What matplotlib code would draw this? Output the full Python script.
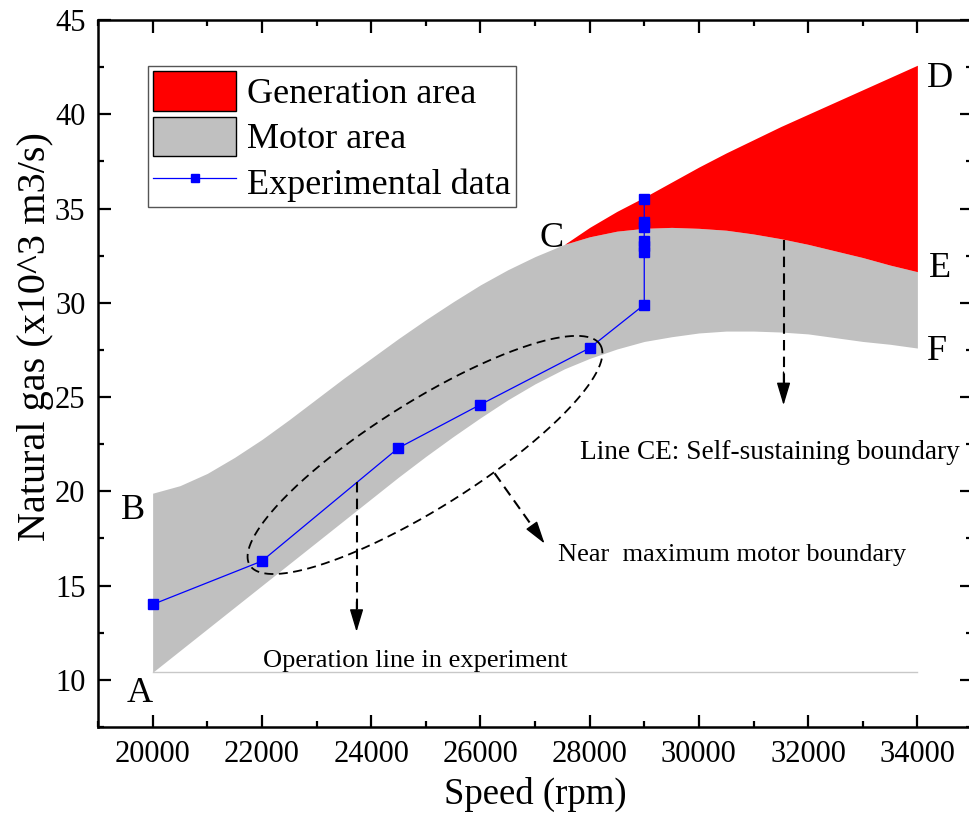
import numpy as np
import matplotlib
matplotlib.use('Agg')
import matplotlib.pyplot as plt
from matplotlib.patches import Patch
from matplotlib.lines import Line2D
from matplotlib.ticker import MultipleLocator

plt.rcParams['font.family'] = ['Liberation Serif', 'DejaVu Serif']

# ---------------- data ----------------
exp_speed = [20000, 22000, 24500, 26000, 28000, 29000, 29000, 29000, 29000, 29000, 29000, 29000]
exp_gas = [14.0, 16.3, 22.3, 24.6, 27.6, 29.9, 32.7, 33.0, 33.3, 34.0, 34.3, 35.5]

motor_speed = [20000, 20500, 21000, 21500, 22000, 22500, 23000, 23500, 24000, 24500,
               25000, 25500, 26000, 26500, 27000, 27540, 28000, 28500, 29000, 29500,
               30000, 30500, 31000, 31500, 32000, 32500, 33000, 33500, 34000]
motor_upper = [19.9, 20.3, 20.95, 21.8, 22.75, 23.8, 24.9, 26.0, 27.05, 28.1,
               29.1, 30.05, 30.95, 31.75, 32.45, 33.1, 33.5, 33.8, 33.95, 34.0,
               33.95, 33.85, 33.65, 33.4, 33.1, 32.75, 32.4, 32.0, 31.65]
motor_lower = [10.4, 11.55, 12.7, 13.85, 15.0, 16.15, 17.3, 18.45, 19.6, 20.75,
               21.85, 22.9, 23.9, 24.85, 25.7, 26.5, 27.05, 27.55, 27.95, 28.2,
               28.4, 28.5, 28.5, 28.45, 28.35, 28.15, 27.95, 27.8, 27.6]

gen_speed = [27540, 28000, 28500, 29000, 29500, 30000, 30500, 31000, 31500,
             32000, 32500, 33000, 33500, 34000]
gen_lower = [33.1, 33.5, 33.8, 33.95, 34.0, 33.95, 33.85, 33.65, 33.4,
             33.1, 32.75, 32.4, 32.0, 31.65]
gen_upper = [33.1, 34.0, 34.85, 35.6, 36.4, 37.2, 37.95, 38.65, 39.35,
             40.0, 40.65, 41.3, 41.95, 42.6]

base_speed = [20000, 34000]
base_gas = [10.43, 10.43]

x_ticks = [20000, 22000, 24000, 26000, 28000, 30000, 32000, 34000]
y_ticks = [10, 15, 20, 25, 30, 35, 40, 45]

# ---------------- figure ----------------
W, H = 969, 814
fig = plt.figure(figsize=(W / 100, H / 100), dpi=100)
L, R, T, B = 98, 972, 20, 727
ax = fig.add_axes([L / W, 1 - B / H, (R - L) / W, (B - T) / H])
ax.set_xlim(19000, 35000)
ax.set_ylim(7.5, 45)

ax.fill_between(motor_speed, motor_lower, motor_upper, color='#c0c0c0', lw=0, zorder=1)
ax.fill_between(gen_speed, gen_lower, gen_upper, color='#ff0000', lw=0, zorder=1)
ax.plot(base_speed, base_gas, color='#c8c8c8', lw=1.0, zorder=1)
ax.plot(exp_speed, exp_gas, color='#0000ff', lw=0.9, marker='s', ms=6.5, zorder=5)

# ---------------- annotations ----------------
sx = (R - L) / 16000.0   # px per rpm
sy = (B - T) / 37.5      # px per unit
cx, cy = 24986, 21.93
a, b, th = 207, 53, np.deg2rad(32.2)
t = np.linspace(0, 2 * np.pi, 400)
du, dv = a * np.cos(t), b * np.sin(t)
ex = cx + (du * np.cos(th) - dv * np.sin(th)) / sx
ey = cy + (du * np.sin(th) + dv * np.cos(th)) / sy
ax.plot(ex, ey, color='k', lw=1.3, ls=(0, (5, 3)), zorder=6)

arrows = [((23733, 20.5), (23733, 12.55)),
          ((26260, 20.96), (27175, 17.23)),
          ((31550, 33.35), (31550, 24.57))]
for (x0, y0), (x1, y1) in arrows:
    f = 0.88
    xm, ym = x0 + (x1 - x0) * f, y0 + (y1 - y0) * f
    ax.plot([x0, xm], [y0, ym], color='k', lw=1.5, ls=(0, (5, 3)), zorder=6)
    ax.annotate('', xy=(x1, y1), xytext=(x0 + (x1 - x0) * 0.8, y0 + (y1 - y0) * 0.8),
                arrowprops=dict(arrowstyle='-|>,head_length=1.4,head_width=0.42',
                                color='k', lw=1.0, shrinkA=0, shrinkB=0), zorder=7)

lf = 26
ax.text(19634, 19.0, 'B', fontsize=lf, ha='center', va='center')
ax.text(19760, 9.3, 'A', fontsize=lf, ha='center', va='center')
ax.text(27300, 33.4, 'C', fontsize=lf, ha='center', va='center')
ax.text(34420, 41.9, 'D', fontsize=lf, ha='center', va='center')
ax.text(34420, 31.8, 'E', fontsize=lf, ha='center', va='center')
ax.text(34350, 27.4, 'F', fontsize=lf, ha='center', va='center')

ax.text(27815, 22.07, 'Line CE: Self-sustaining boundary', fontsize=19.6, ha='left', va='center')
ax.text(27412, 16.6, 'Near  maximum motor boundary', fontsize=19, ha='left', va='center')
ax.text(22013, 11.0, 'Operation line in experiment', fontsize=19, ha='left', va='center')

# ---------------- axes styling ----------------
ax.set_xticks(x_ticks)
ax.set_yticks(y_ticks)
ax.xaxis.set_minor_locator(MultipleLocator(1000))
ax.yaxis.set_minor_locator(MultipleLocator(2.5))
ax.tick_params(which='both', direction='in', top=True, right=True, width=1.6)
ax.tick_params(which='major', length=9, labelsize=22)
ax.tick_params(which='minor', length=4.5)
ax.tick_params(axis='y', pad=9)
ax.tick_params(axis='x', pad=9)
for s in ax.spines.values():
    s.set_linewidth(1.8)

ax.set_xlabel('Speed (rpm)', fontsize=26.5, labelpad=6)
ax.set_ylabel('Natural gas (x10^3 m3/s)', fontsize=29)
ax.yaxis.set_label_coords(-0.05, 0.552)

handles = [Patch(facecolor='#ff0000', edgecolor='black', lw=1.0),
           Patch(facecolor='#c0c0c0', edgecolor='black', lw=1.0),
           Line2D([], [], color='#0000ff', lw=0.9, marker='s', ms=5.5)]
labels = ['Generation area', 'Motor area', 'Experimental data']
leg = ax.legend(handles, labels, loc='upper left',
                bbox_to_anchor=((148 - L) / (R - L), (B - 66) / (B - T)),
                borderaxespad=0, fontsize=26, handlelength=2.3, handleheight=1.3,
                labelspacing=0.15, handletextpad=0.3, borderpad=0.15,
                fancybox=False, framealpha=1, edgecolor='#555555')
leg.get_frame().set_linewidth(1.0)
leg.set_zorder(10)

fig.savefig('out.png', dpi=100)
